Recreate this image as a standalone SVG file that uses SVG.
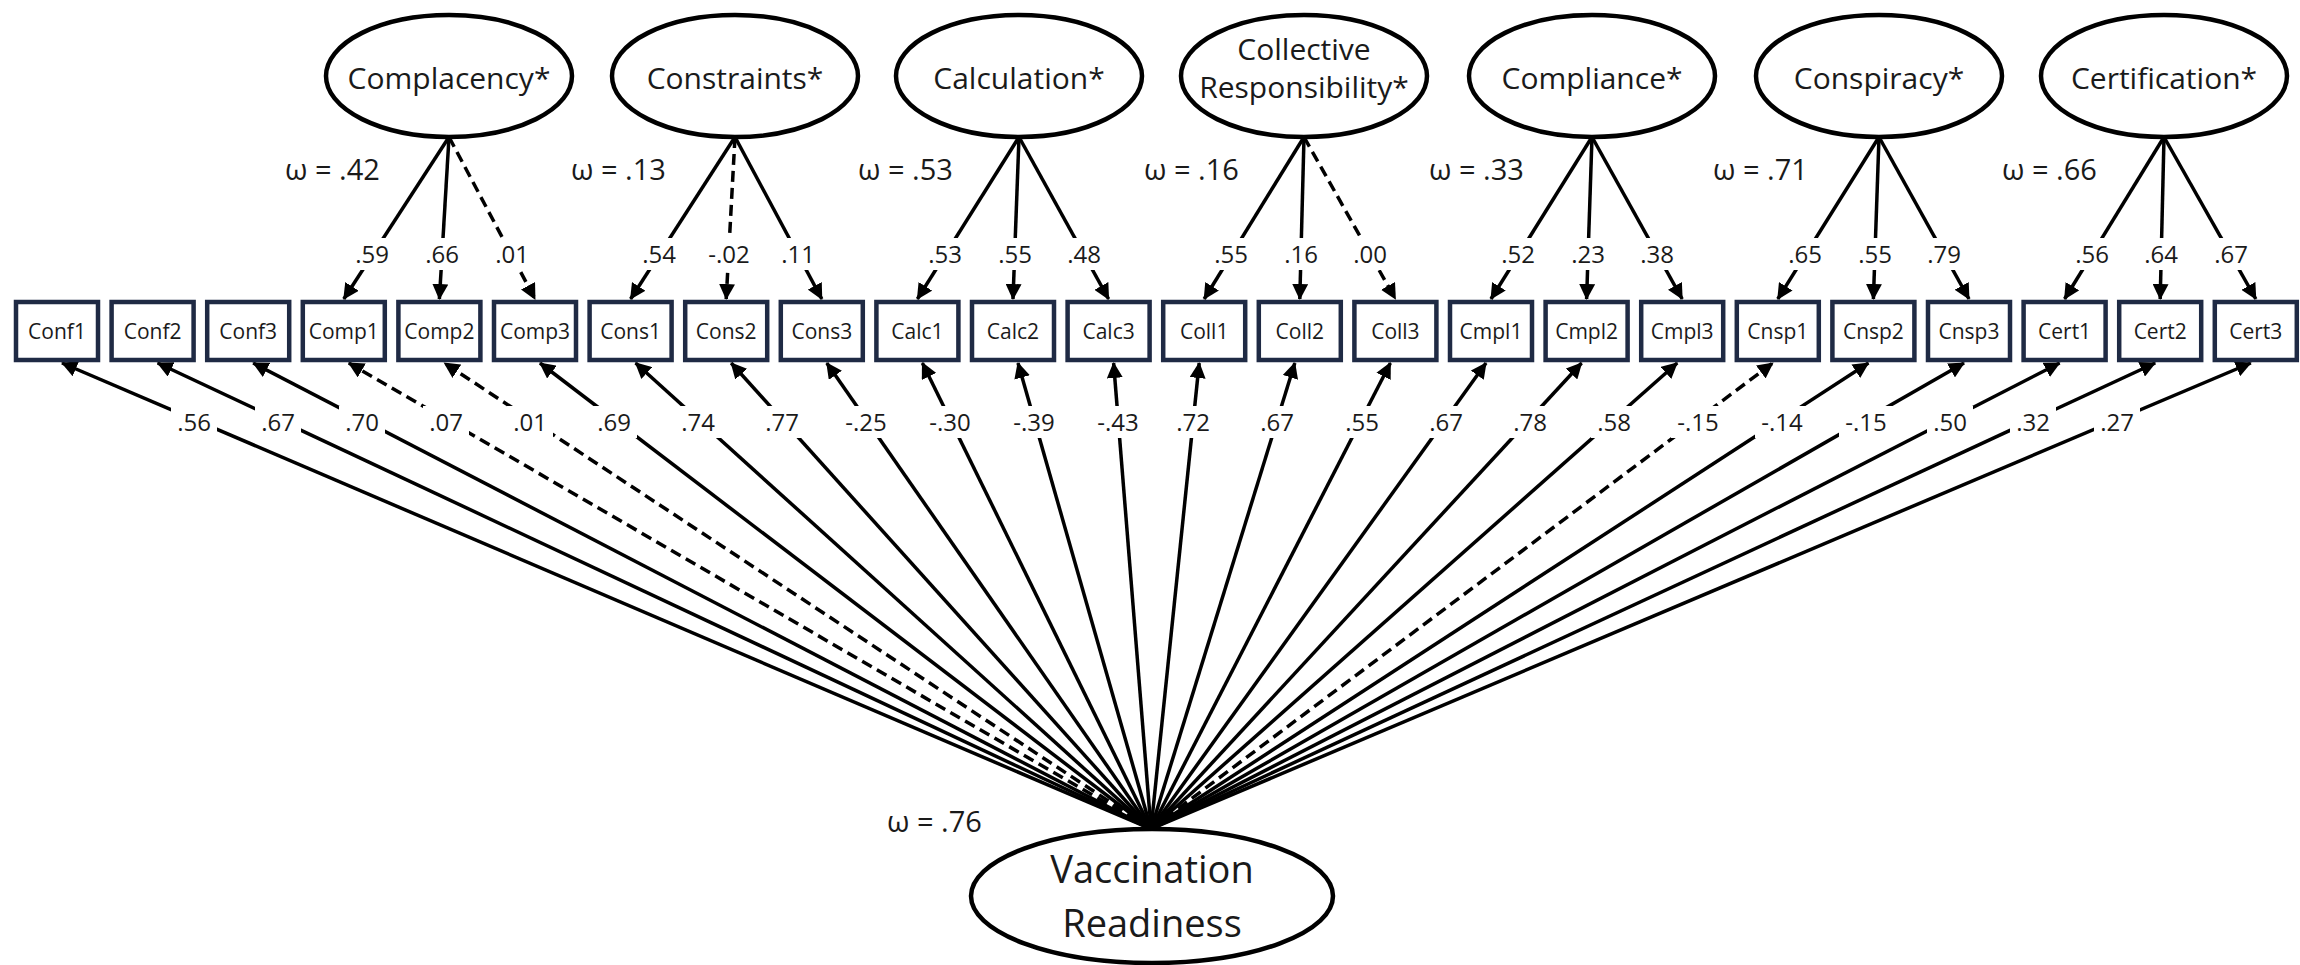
<svg xmlns="http://www.w3.org/2000/svg" width="2300" height="965" viewBox="0 0 2300 965">
<style>
.box{fill:#fff;stroke:#1f2a44;stroke-width:4.5}
.lat{fill:#fff;stroke:#000;stroke-width:4.5}
text{font-family:'Open Sans','Liberation Sans',sans-serif;fill:#1a1a1a}
.bt{font-size:21px;text-anchor:middle}
.et{font-size:30px;text-anchor:middle}
.vt{font-size:38px;text-anchor:middle}
.w{font-size:29px}
.ld{font-size:24px;text-anchor:middle}
.c{stroke:#000;stroke-width:3.5;fill:none;marker-end:url(#ah)}
.d{stroke-dasharray:11 6}
.bg{fill:#fff}
</style>
<defs>
<marker id="ah" markerUnits="userSpaceOnUse" markerWidth="18" markerHeight="16" refX="15" refY="8" orient="auto">
<path d="M0,0 L16,8 L0,16 z" fill="#000"/>
</marker>
</defs>
<rect width="2300" height="965" fill="#fff"/>
<g id="connectors">
<line class="c" x1="449" y1="137" x2="343.8" y2="299"/>
<line class="c" x1="449" y1="137" x2="439.4" y2="299"/>
<line class="c d" x1="449" y1="137" x2="535" y2="299"/>
<line class="c" x1="735" y1="137" x2="630.6" y2="299"/>
<line class="c d" x1="735" y1="137" x2="726.2" y2="299"/>
<line class="c" x1="735" y1="137" x2="821.8" y2="299"/>
<line class="c" x1="1019" y1="137" x2="917.4" y2="299"/>
<line class="c" x1="1019" y1="137" x2="1013" y2="299"/>
<line class="c" x1="1019" y1="137" x2="1108.6" y2="299"/>
<line class="c" x1="1304" y1="137" x2="1204.2" y2="299"/>
<line class="c" x1="1304" y1="137" x2="1299.8" y2="299"/>
<line class="c d" x1="1304" y1="137" x2="1395.4" y2="299"/>
<line class="c" x1="1592" y1="137" x2="1491" y2="299"/>
<line class="c" x1="1592" y1="137" x2="1586.6" y2="299"/>
<line class="c" x1="1592" y1="137" x2="1682.2" y2="299"/>
<line class="c" x1="1879" y1="137" x2="1777.8" y2="299"/>
<line class="c" x1="1879" y1="137" x2="1873.4" y2="299"/>
<line class="c" x1="1879" y1="137" x2="1969" y2="299"/>
<line class="c" x1="2164" y1="137" x2="2064.6" y2="299"/>
<line class="c" x1="2164" y1="137" x2="2160.2" y2="299"/>
<line class="c" x1="2164" y1="137" x2="2255.8" y2="299"/>

<line class="c" x1="1151" y1="829" x2="62" y2="363"/>
<line class="c" x1="1151" y1="829" x2="157.6" y2="363"/>
<line class="c" x1="1151" y1="829" x2="253.2" y2="363"/>
<line class="c d" x1="1151" y1="829" x2="348.8" y2="363"/>
<line class="c d" x1="1151" y1="829" x2="444.4" y2="363"/>
<line class="c" x1="1151" y1="829" x2="540" y2="363"/>
<line class="c" x1="1151" y1="829" x2="635.6" y2="363"/>
<line class="c" x1="1151" y1="829" x2="731.2" y2="363"/>
<line class="c" x1="1151" y1="829" x2="826.8" y2="363"/>
<line class="c" x1="1151" y1="829" x2="922.4" y2="363"/>
<line class="c" x1="1151" y1="829" x2="1018" y2="363"/>
<line class="c" x1="1151" y1="829" x2="1113.6" y2="363"/>
<line class="c" x1="1151" y1="829" x2="1199.2" y2="363"/>
<line class="c" x1="1151" y1="829" x2="1294.8" y2="363"/>
<line class="c" x1="1151" y1="829" x2="1390.4" y2="363"/>
<line class="c" x1="1151" y1="829" x2="1486" y2="363"/>
<line class="c" x1="1151" y1="829" x2="1581.6" y2="363"/>
<line class="c" x1="1151" y1="829" x2="1677.2" y2="363"/>
<line class="c d" x1="1151" y1="829" x2="1772.8" y2="363"/>
<line class="c" x1="1151" y1="829" x2="1868.4" y2="363"/>
<line class="c" x1="1151" y1="829" x2="1964" y2="363"/>
<line class="c" x1="1151" y1="829" x2="2059.6" y2="363"/>
<line class="c" x1="1151" y1="829" x2="2155.2" y2="363"/>
<line class="c" x1="1151" y1="829" x2="2250.8" y2="363"/>
</g>
<g id="loading-labels">
<rect class="bg" x="352" y="238" width="40" height="32"/><text class="ld" x="372" y="263">.59</text>
<rect class="bg" x="422" y="238" width="40" height="32"/><text class="ld" x="442" y="263">.66</text>
<rect class="bg" x="492" y="238" width="40" height="32"/><text class="ld" x="512" y="263">.01</text>
<rect class="bg" x="639" y="238" width="40" height="32"/><text class="ld" x="659" y="263">.54</text>
<rect class="bg" x="705" y="238" width="48" height="32"/><text class="ld" x="729" y="263">-.02</text>
<rect class="bg" x="778" y="238" width="40" height="32"/><text class="ld" x="798" y="263">.11</text>
<rect class="bg" x="925" y="238" width="40" height="32"/><text class="ld" x="945" y="263">.53</text>
<rect class="bg" x="995" y="238" width="40" height="32"/><text class="ld" x="1015" y="263">.55</text>
<rect class="bg" x="1064" y="238" width="40" height="32"/><text class="ld" x="1084" y="263">.48</text>
<rect class="bg" x="1211" y="238" width="40" height="32"/><text class="ld" x="1231" y="263">.55</text>
<rect class="bg" x="1281" y="238" width="40" height="32"/><text class="ld" x="1301" y="263">.16</text>
<rect class="bg" x="1350" y="238" width="40" height="32"/><text class="ld" x="1370" y="263">.00</text>
<rect class="bg" x="1498" y="238" width="40" height="32"/><text class="ld" x="1518" y="263">.52</text>
<rect class="bg" x="1568" y="238" width="40" height="32"/><text class="ld" x="1588" y="263">.23</text>
<rect class="bg" x="1637" y="238" width="40" height="32"/><text class="ld" x="1657" y="263">.38</text>
<rect class="bg" x="1785" y="238" width="40" height="32"/><text class="ld" x="1805" y="263">.65</text>
<rect class="bg" x="1855" y="238" width="40" height="32"/><text class="ld" x="1875" y="263">.55</text>
<rect class="bg" x="1924" y="238" width="40" height="32"/><text class="ld" x="1944" y="263">.79</text>
<rect class="bg" x="2072" y="238" width="40" height="32"/><text class="ld" x="2092" y="263">.56</text>
<rect class="bg" x="2141" y="238" width="40" height="32"/><text class="ld" x="2161" y="263">.64</text>
<rect class="bg" x="2211" y="238" width="40" height="32"/><text class="ld" x="2231" y="263">.67</text>

<rect class="bg" x="171" y="406" width="46" height="32"/><text class="ld" x="194" y="431">.56</text>
<rect class="bg" x="255" y="406" width="46" height="32"/><text class="ld" x="278" y="431">.67</text>
<rect class="bg" x="339" y="406" width="46" height="32"/><text class="ld" x="362" y="431">.70</text>
<rect class="bg" x="423" y="406" width="46" height="32"/><text class="ld" x="446" y="431">.07</text>
<rect class="bg" x="507" y="406" width="46" height="32"/><text class="ld" x="530" y="431">.01</text>
<rect class="bg" x="591" y="406" width="46" height="32"/><text class="ld" x="614" y="431">.69</text>
<rect class="bg" x="675" y="406" width="46" height="32"/><text class="ld" x="698" y="431">.74</text>
<rect class="bg" x="759" y="406" width="46" height="32"/><text class="ld" x="782" y="431">.77</text>
<rect class="bg" x="839" y="406" width="54" height="32"/><text class="ld" x="866" y="431">-.25</text>
<rect class="bg" x="923" y="406" width="54" height="32"/><text class="ld" x="950" y="431">-.30</text>
<rect class="bg" x="1007" y="406" width="54" height="32"/><text class="ld" x="1034" y="431">-.39</text>
<rect class="bg" x="1091" y="406" width="54" height="32"/><text class="ld" x="1118" y="431">-.43</text>
<rect class="bg" x="1170" y="406" width="46" height="32"/><text class="ld" x="1193" y="431">.72</text>
<rect class="bg" x="1254" y="406" width="46" height="32"/><text class="ld" x="1277" y="431">.67</text>
<rect class="bg" x="1339" y="406" width="46" height="32"/><text class="ld" x="1362" y="431">.55</text>
<rect class="bg" x="1423" y="406" width="46" height="32"/><text class="ld" x="1446" y="431">.67</text>
<rect class="bg" x="1507" y="406" width="46" height="32"/><text class="ld" x="1530" y="431">.78</text>
<rect class="bg" x="1591" y="406" width="46" height="32"/><text class="ld" x="1614" y="431">.58</text>
<rect class="bg" x="1671" y="406" width="54" height="32"/><text class="ld" x="1698" y="431">-.15</text>
<rect class="bg" x="1755" y="406" width="54" height="32"/><text class="ld" x="1782" y="431">-.14</text>
<rect class="bg" x="1839" y="406" width="54" height="32"/><text class="ld" x="1866" y="431">-.15</text>
<rect class="bg" x="1927" y="406" width="46" height="32"/><text class="ld" x="1950" y="431">.50</text>
<rect class="bg" x="2010" y="406" width="46" height="32"/><text class="ld" x="2033" y="431">.32</text>
<rect class="bg" x="2094" y="406" width="46" height="32"/><text class="ld" x="2117" y="431">.27</text>
</g>
<g id="omega-labels">
<text class="w" x="285" y="180">ω = .42</text>
<text class="w" x="571" y="180">ω = .13</text>
<text class="w" x="858" y="180">ω = .53</text>
<text class="w" x="1144" y="180">ω = .16</text>
<text class="w" x="1429" y="180">ω = .33</text>
<text class="w" x="1713" y="180">ω = .71</text>
<text class="w" x="2002" y="180">ω = .66</text>
<text class="w" x="887" y="832">ω = .76</text>
</g>
<g id="latent-complacency"><ellipse class="lat" cx="449" cy="76" rx="123" ry="61"/><text class="et" x="449" y="89">Complacency*</text></g>
<g id="latent-constraints"><ellipse class="lat" cx="735" cy="76" rx="123" ry="61"/><text class="et" x="735" y="89">Constraints*</text></g>
<g id="latent-calculation"><ellipse class="lat" cx="1019" cy="76" rx="123" ry="61"/><text class="et" x="1019" y="89">Calculation*</text></g>
<g id="latent-collective"><ellipse class="lat" cx="1304" cy="76" rx="123" ry="61"/><text class="et" x="1304" y="60">Collective</text><text class="et" x="1304" y="98">Responsibility*</text></g>
<g id="latent-compliance"><ellipse class="lat" cx="1592" cy="76" rx="123" ry="61"/><text class="et" x="1592" y="89">Compliance*</text></g>
<g id="latent-conspiracy"><ellipse class="lat" cx="1879" cy="76" rx="123" ry="61"/><text class="et" x="1879" y="89">Conspiracy*</text></g>
<g id="latent-certification"><ellipse class="lat" cx="2164" cy="76" rx="123" ry="61"/><text class="et" x="2164" y="89">Certification*</text></g>
<g id="latent-vaccination"><ellipse class="lat" cx="1152" cy="896" rx="181" ry="67"/><text class="vt" x="1152" y="883">Vaccination</text><text class="vt" x="1152" y="937">Readiness</text></g>
<g id="box-Conf1"><rect class="box" x="16" y="302" width="82" height="58"/><text class="bt" x="57" y="339">Conf1</text></g>
<g id="box-Conf2"><rect class="box" x="111.6" y="302" width="82" height="58"/><text class="bt" x="152.6" y="339">Conf2</text></g>
<g id="box-Conf3"><rect class="box" x="207.2" y="302" width="82" height="58"/><text class="bt" x="248.2" y="339">Conf3</text></g>
<g id="box-Comp1"><rect class="box" x="302.8" y="302" width="82" height="58"/><text class="bt" x="343.8" y="339">Comp1</text></g>
<g id="box-Comp2"><rect class="box" x="398.4" y="302" width="82" height="58"/><text class="bt" x="439.4" y="339">Comp2</text></g>
<g id="box-Comp3"><rect class="box" x="494" y="302" width="82" height="58"/><text class="bt" x="535" y="339">Comp3</text></g>
<g id="box-Cons1"><rect class="box" x="589.6" y="302" width="82" height="58"/><text class="bt" x="630.6" y="339">Cons1</text></g>
<g id="box-Cons2"><rect class="box" x="685.2" y="302" width="82" height="58"/><text class="bt" x="726.2" y="339">Cons2</text></g>
<g id="box-Cons3"><rect class="box" x="780.8" y="302" width="82" height="58"/><text class="bt" x="821.8" y="339">Cons3</text></g>
<g id="box-Calc1"><rect class="box" x="876.4" y="302" width="82" height="58"/><text class="bt" x="917.4" y="339">Calc1</text></g>
<g id="box-Calc2"><rect class="box" x="972" y="302" width="82" height="58"/><text class="bt" x="1013" y="339">Calc2</text></g>
<g id="box-Calc3"><rect class="box" x="1067.6" y="302" width="82" height="58"/><text class="bt" x="1108.6" y="339">Calc3</text></g>
<g id="box-Coll1"><rect class="box" x="1163.2" y="302" width="82" height="58"/><text class="bt" x="1204.2" y="339">Coll1</text></g>
<g id="box-Coll2"><rect class="box" x="1258.8" y="302" width="82" height="58"/><text class="bt" x="1299.8" y="339">Coll2</text></g>
<g id="box-Coll3"><rect class="box" x="1354.4" y="302" width="82" height="58"/><text class="bt" x="1395.4" y="339">Coll3</text></g>
<g id="box-Cmpl1"><rect class="box" x="1450" y="302" width="82" height="58"/><text class="bt" x="1491" y="339">Cmpl1</text></g>
<g id="box-Cmpl2"><rect class="box" x="1545.6" y="302" width="82" height="58"/><text class="bt" x="1586.6" y="339">Cmpl2</text></g>
<g id="box-Cmpl3"><rect class="box" x="1641.2" y="302" width="82" height="58"/><text class="bt" x="1682.2" y="339">Cmpl3</text></g>
<g id="box-Cnsp1"><rect class="box" x="1736.8" y="302" width="82" height="58"/><text class="bt" x="1777.8" y="339">Cnsp1</text></g>
<g id="box-Cnsp2"><rect class="box" x="1832.4" y="302" width="82" height="58"/><text class="bt" x="1873.4" y="339">Cnsp2</text></g>
<g id="box-Cnsp3"><rect class="box" x="1928" y="302" width="82" height="58"/><text class="bt" x="1969" y="339">Cnsp3</text></g>
<g id="box-Cert1"><rect class="box" x="2023.6" y="302" width="82" height="58"/><text class="bt" x="2064.6" y="339">Cert1</text></g>
<g id="box-Cert2"><rect class="box" x="2119.2" y="302" width="82" height="58"/><text class="bt" x="2160.2" y="339">Cert2</text></g>
<g id="box-Cert3"><rect class="box" x="2214.8" y="302" width="82" height="58"/><text class="bt" x="2255.8" y="339">Cert3</text></g>
</svg>
